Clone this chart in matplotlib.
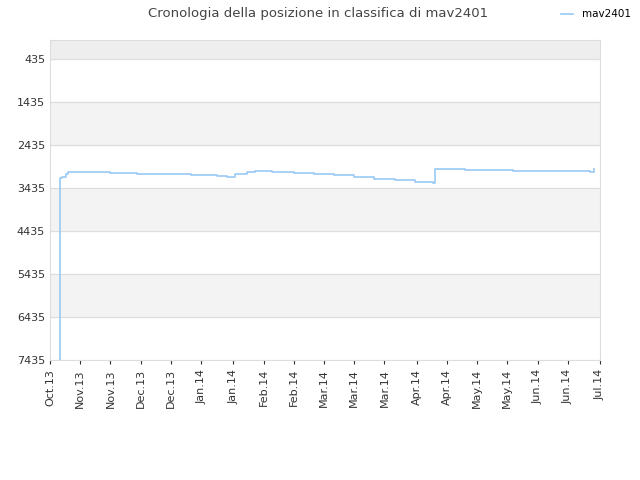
import datetime as dt

import matplotlib
matplotlib.use("Agg")
import matplotlib.pyplot as plt
import matplotlib.dates as mdates

START = dt.date(2013, 10, 1)
END = dt.date(2014, 7, 1)

# days since START, rank position
step_days = [5, 5, 6, 8, 9, 15, 30, 43, 56, 70, 83, 88, 92, 98, 102, 110, 121,
             131, 141, 151, 161, 171, 181, 190, 191, 206, 230, 252, 268, 269, 270]
step_rank = [7435, 3200, 3170, 3110, 3060, 3070, 3080, 3100, 3120, 3140, 3160,
             3170, 3100, 3070, 3040, 3060, 3080, 3110, 3140, 3180, 3220, 3260,
             3290, 3330, 2990, 3010, 3030, 3050, 3070, 3070, 2990]

tick_labels = ["Oct.13", "Nov.13", "Nov.13", "Dec.13", "Dec.13", "Jan.14", "Jan.14",
               "Feb.14", "Feb.14", "Mar.14", "Mar.14", "Mar.14", "Apr.14", "Apr.14",
               "May.14", "May.14", "Jun.14", "Jun.14", "Jul.14"]
y_ticks = [435, 1435, 2435, 3435, 4435, 5435, 6435, 7435]

dates = [START + dt.timedelta(days=d) for d in step_days]

fig = plt.figure(figsize=(6.4, 4.8), dpi=100)
ax = fig.add_axes([50 / 640, 120 / 480, 550 / 640, 320 / 480])

y_top = -7
ax.axhspan(y_top, 435, color="#eeeeee", zorder=0)
for i in range(len(y_ticks) - 1):
    if i % 2 == 1:
        ax.axhspan(y_ticks[i], y_ticks[i + 1], color="#f3f3f3", zorder=0)
for y in y_ticks:
    ax.axhline(y, color="#dddddd", linewidth=0.8, zorder=1)

ax.step(dates, step_rank, where="post", color="#99c9f5", linewidth=1.2,
        label="mav2401", zorder=3)

ax.set_xlim(START, END)
ax.set_ylim(7435, y_top)
ax.set_yticks(y_ticks)
ax.set_yticklabels([str(v) for v in y_ticks])

total = (END - START).days
tick_dates = [START + dt.timedelta(days=total * i / 18) for i in range(19)]
ax.set_xticks([mdates.date2num(d) for d in tick_dates])
ax.set_xticklabels(tick_labels, rotation=90)

for side in ["top", "right", "left", "bottom"]:
    ax.spines[side].set_color("#dddddd")
ax.tick_params(colors="#333333", labelsize=8, length=3)
ax.tick_params(axis="y", length=0)

fig.suptitle("Cronologia della posizione in classifica di mav2401", x=318 / 640,
             y=0.985, fontsize=9.5, color="#444444")
fig.legend(loc="upper right", bbox_to_anchor=(1.0, 1.0), frameon=False,
           fontsize=7.5, handlelength=1.2)

fig.savefig("out.png", dpi=100)
